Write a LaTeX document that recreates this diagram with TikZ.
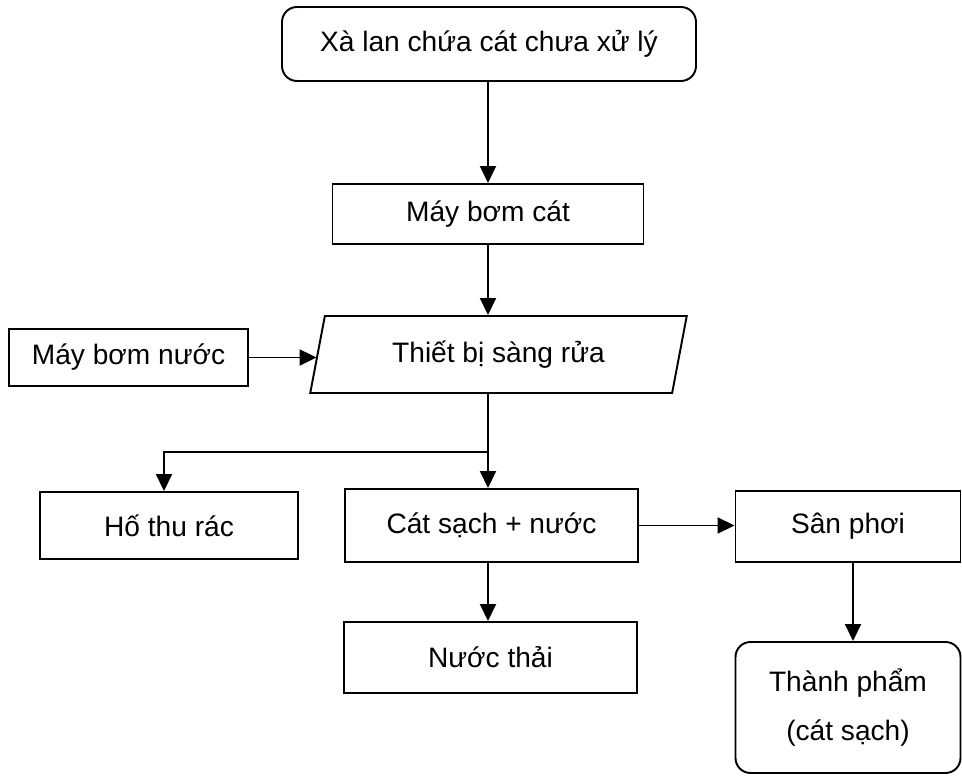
\documentclass[tikz,border=0pt]{standalone}
\usepackage{fontspec}
\setmainfont{Liberation Sans}
\usetikzlibrary{shapes.geometric,arrows.meta,positioning,calc}

\begin{document}
\begin{tikzpicture}[
  box/.style={draw,line width=1.1pt,font=\fontsize{16}{28}\selectfont,
              align=center,inner sep=2pt},
  rbox/.style={box,rounded corners=0.3cm},
  para/.style={box,trapezium,trapezium left angle=75,
               trapezium right angle=105,trapezium stretches=true},
  arr/.style={-{Triangle[length=0.34cm,width=0.32cm]},line width=1.1pt}
]
\useasboundingbox (0,0) rectangle (19.24,15.52);
\node[rbox,minimum width=8.28cm,minimum height=1.48cm] (xalan) at (9.78,14.64)
  {Xà lan chứa cát chưa xử lý};
\node[box,minimum width=6.22cm,minimum height=1.2cm] (maybomcat) at (9.76,11.24)
  {Máy bơm cát};
\node[para,minimum width=7.54cm,minimum height=1.54cm] (thietbi) at (9.97,8.43)
  {Thiết bị sàng rửa};
\node[box,minimum width=4.78cm,minimum height=1.14cm] (maybomnuoc) at (2.57,8.37)
  {Máy bơm nước};
\node[box,minimum width=5.16cm,minimum height=1.34cm] (hothurac) at (3.38,5.01)
  {Hố thu rác};
\node[box,minimum width=5.86cm,minimum height=1.46cm] (catsach) at (9.83,5.01)
  {Cát sạch + nước};
\node[box,minimum width=4.5cm,minimum height=1.42cm] (sanphoi) at (16.96,4.99)
  {Sân phơi};
\node[box,minimum width=5.86cm,minimum height=1.42cm] (nuocthai) at (9.81,2.37)
  {Nước thải};
\node[rbox,minimum width=4.5cm,minimum height=2.62cm] (thanhpham) at (16.96,1.37)
  {Thành phẩm\\(cát sạch)};
\coordinate (jn) at (9.76,6.48);

\draw[arr] (xalan.south -| maybomcat) -- (maybomcat.north);
\draw[arr] (maybomcat.south) -- (maybomcat.south |- thietbi.north);
\draw[arr] (maybomnuoc.east) -- (thietbi.west |- maybomnuoc.east);
\draw[line width=1.1pt] (jn |- thietbi.south) -- (jn);
\draw[arr] (jn) -| ([xshift=-0.1cm]hothurac.north);
\draw[arr] (jn) -- (jn |- catsach.north);
\draw[arr] (jn |- catsach.south) -- (jn |- nuocthai.north);
\draw[arr] (catsach.east) -- (sanphoi.west |- catsach.east);
\draw[arr] ([xshift=0.1cm]sanphoi.south) -- ([xshift=0.1cm]thanhpham.north);
\end{tikzpicture}
\end{document}
